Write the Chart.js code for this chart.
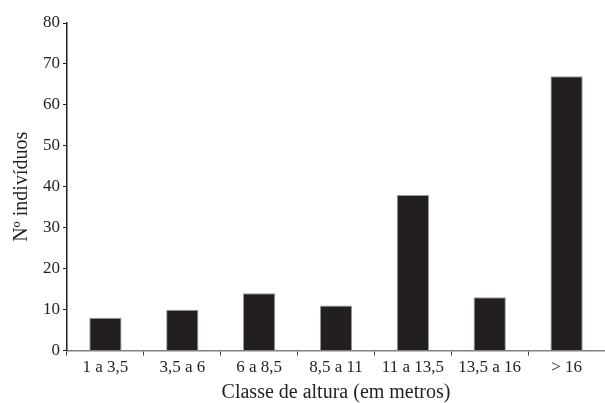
<!DOCTYPE html>
<html>
<head>
<meta charset="utf-8">
<script src="https://cdn.jsdelivr.net/npm/chart.js@4/dist/chart.umd.min.js"></script>
<style>
  html, body { margin: 0; padding: 0; background: #fff; }
  #wrap { width: 605px; height: 403px; }
</style>
</head>
<body>
<div id="wrap"><canvas id="heightChart"></canvas></div>
<script>
// Height classes and number of individuals
const classes = ['1 a 3,5', '3,5 a 6', '6 a 8,5', '8,5 a 11', '11 a 13,5', '13,5 a 16', '> 16'];
const individuals = [8, 10, 14, 11, 38, 13, 67];
const yTicks = [0, 10, 20, 30, 40, 50, 60, 70, 80];

const ink = '#231f20';
const serif = "'Liberation Serif', 'Times New Roman', serif";

const heightChart = new Chart(document.getElementById('heightChart'), {
  type: 'bar',
  data: {
    labels: classes,
    datasets: [{
      label: 'Nº indivíduos',
      data: individuals,
      backgroundColor: ink,
      borderColor: '#9a9a9a',
      borderWidth: 1,
      barPercentage: 0.42,
      categoryPercentage: 1
    }]
  },
  options: {
    responsive: true,
    maintainAspectRatio: false,
    animation: false,
    layout: { padding: { top: 23, right: 0, left: 6, bottom: -2 } },
    plugins: {
      legend: { display: false },
      tooltip: { enabled: false }
    },
    scales: {
      x: {
        grid: {
          offset: true,
          drawOnChartArea: false,
          drawTicks: true,
          tickLength: 5,
          color: '#444'
        },
        border: { display: true, color: '#808080', width: 1.5 },
        ticks: {
          color: ink,
          font: { family: serif, size: 17 },
          padding: 2,
          maxRotation: 0
        },
        title: {
          display: true,
          text: 'Classe de altura (em metros)',
          color: ink,
          font: { family: serif, size: 20 },
          padding: { top: 1, bottom: 0 }
        }
      },
      y: {
        min: 0,
        max: 80,
        afterBuildTicks: axis => {
          axis.ticks = yTicks.map(v => ({ value: v }));
        },
        grid: {
          drawOnChartArea: false,
          drawTicks: true,
          tickLength: 4,
          color: ink
        },
        border: { display: true, color: ink, width: 1.5 },
        ticks: {
          color: ink,
          font: { family: serif, size: 17 },
          padding: 3
        },
        title: {
          display: true,
          text: 'Nº indivíduos',
          color: ink,
          font: { family: serif, size: 20 },
          padding: { top: 4, bottom: 6 }
        }
      }
    }
  }
});
</script>
</body>
</html>
